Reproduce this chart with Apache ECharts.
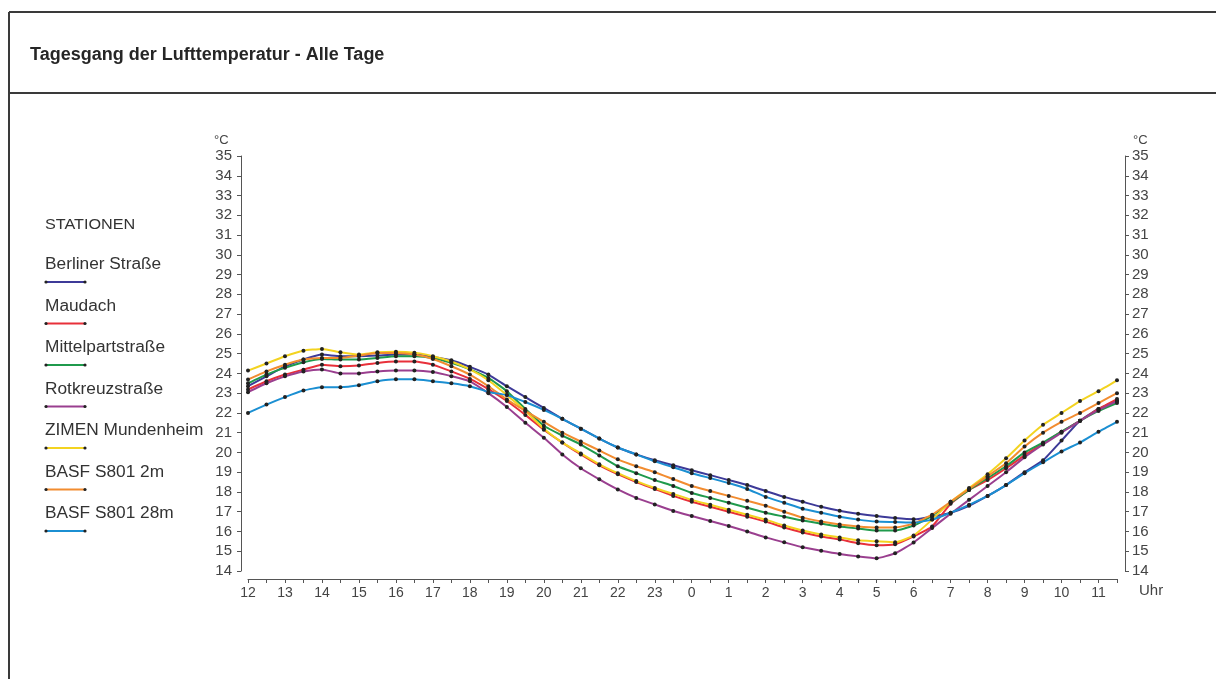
<!DOCTYPE html>
<html>
<head>
<meta charset="utf-8">
<script src="https://cdn.jsdelivr.net/npm/echarts@6/dist/echarts.min.js"></script>
<style>
html,body{margin:0;padding:0;background:#fff;}
#chart{width:1216px;height:679px;}
</style>
</head>
<body>
<div id="chart"></div>
<script>
const times = ['12:00','12:30','13:00','13:30','14:00','14:30','15:00','15:30','16:00','16:30','17:00','17:30',
  '18:00','18:30','19:00','19:30','20:00','20:30','21:00','21:30','22:00','22:30','23:00','23:30',
  '0:00','0:30','1:00','1:30','2:00','2:30','3:00','3:30','4:00','4:30','5:00','5:30',
  '6:00','6:30','7:00','7:30','8:00','8:30','9:00','9:30','10:00','10:30','11:00','11:30'];

const stationNames = ['Berliner Straße','Maudach','Mittelpartstraße','Rotkreuzstraße','ZIMEN Mundenheim','BASF S801 2m','BASF S801 28m'];

const berliner = [23.35,23.85,24.35,24.7,24.95,24.87,24.87,24.9,24.95,24.95,24.83,24.66,24.33,23.94,23.35,22.8,22.25,21.7,21.2,20.7,20.25,19.9,19.6,19.35,19.1,18.85,18.6,18.35,18.05,17.75,17.5,17.25,17.05,16.9,16.78,16.68,16.62,16.75,16.95,17.3,17.8,18.35,19.0,19.6,20.6,21.6,22.2,22.6];
const maudach = [23.18,23.6,23.94,24.19,24.44,24.36,24.4,24.53,24.6,24.6,24.44,24.1,23.72,23.2,22.6,21.9,21.15,20.5,19.9,19.35,18.9,18.5,18.15,17.8,17.5,17.25,17.0,16.75,16.5,16.2,15.95,15.75,15.6,15.4,15.3,15.35,15.75,16.25,17.4,18.1,18.6,19.2,19.85,20.45,21.05,21.6,22.2,22.7];
const mittelpart = [23.5,23.94,24.28,24.56,24.73,24.7,24.7,24.78,24.87,24.87,24.78,24.53,24.2,23.77,23.1,22.2,21.35,20.85,20.4,19.85,19.3,18.95,18.6,18.3,17.95,17.7,17.45,17.2,16.95,16.75,16.55,16.4,16.25,16.15,16.05,16.05,16.3,16.8,17.45,18.1,18.7,19.3,20.0,20.5,21.05,21.6,22.1,22.5];
const rotkreuz = [23.05,23.5,23.85,24.1,24.2,24.0,24.0,24.1,24.15,24.15,24.07,23.86,23.6,23.0,22.3,21.5,20.74,19.9,19.2,18.64,18.13,17.7,17.37,17.04,16.78,16.53,16.28,16.0,15.7,15.45,15.2,15.02,14.86,14.74,14.65,14.9,15.44,16.17,16.9,17.6,18.3,19.0,19.75,20.4,21.0,21.6,22.15,22.6];
const zimen = [24.14,24.5,24.87,25.15,25.24,25.07,24.95,25.07,25.1,25.05,24.87,24.6,24.2,23.65,22.9,22.1,21.2,20.5,19.95,19.4,18.95,18.55,18.2,17.9,17.6,17.35,17.1,16.85,16.6,16.3,16.05,15.85,15.7,15.55,15.5,15.45,15.8,16.6,17.5,18.2,18.9,19.7,20.6,21.4,22.0,22.6,23.1,23.65];
const basf2m = [23.69,24.1,24.44,24.7,24.78,24.78,24.9,25.03,25.03,24.95,24.73,24.36,23.94,23.35,22.68,22.1,21.55,21.0,20.55,20.1,19.65,19.3,19.0,18.65,18.3,18.05,17.8,17.55,17.3,17.0,16.7,16.5,16.35,16.25,16.2,16.2,16.4,16.85,17.5,18.15,18.8,19.45,20.3,21.0,21.55,22.0,22.5,23.0];
const basf28m = [22.0,22.42,22.8,23.13,23.3,23.3,23.4,23.6,23.7,23.7,23.6,23.5,23.35,23.06,22.9,22.55,22.15,21.7,21.2,20.7,20.25,19.9,19.55,19.25,18.95,18.7,18.45,18.15,17.75,17.45,17.15,16.95,16.75,16.6,16.5,16.48,16.45,16.6,16.95,17.35,17.8,18.35,18.95,19.5,20.05,20.5,21.05,21.55];

const seriesValues = [berliner, maudach, mittelpart, rotkreuz, zimen, basf2m, basf28m];
const colors = ['#3d3a98','#e8303a','#1f9a4c','#9a3f8f','#f3d320','#f28c30','#1b8fd2'];

const FONT = '"Liberation Sans", Arial, sans-serif';
const chart = echarts.init(document.getElementById('chart'), null, {renderer:'canvas'});

const graphics = [
  {type:'line', shape:{x1:9,y1:12,x2:1216,y2:12}, style:{stroke:'#3a3a3a', lineWidth:2}},
  {type:'line', shape:{x1:9,y1:12,x2:9,y2:679}, style:{stroke:'#3a3a3a', lineWidth:2}},
  {type:'line', shape:{x1:9,y1:93,x2:1216,y2:93}, style:{stroke:'#3a3a3a', lineWidth:2}},
  {type:'text', x:30, y:55, style:{text:'Tagesgang der Lufttemperatur - Alle Tage', font:'bold 18px '+FONT, fill:'#262626', textVerticalAlign:'middle'}},
  {type:'text', x:214, y:140, style:{text:'°C', font:'13px '+FONT, fill:'#444', textVerticalAlign:'middle'}},
  {type:'text', x:1133, y:140, style:{text:'°C', font:'13px '+FONT, fill:'#444', textVerticalAlign:'middle'}},
  {type:'text', x:1139, y:591, style:{text:'Uhr', font:'15px '+FONT, fill:'#444', textVerticalAlign:'middle'}},
  {type:'text', x:45, y:225, scaleX:1.08, style:{text:'STATIONEN', font:'15px '+FONT, fill:'#333', textVerticalAlign:'middle'}}
];
stationNames.forEach((n,i)=>{
  const ty = 265 + 41.5*i;
  const ly = 282 + 41.5*i;
  graphics.push({type:'text', x:45, y:ty, scaleX:1.08, style:{text:n, font:'16px '+FONT, fill:'#333', textVerticalAlign:'middle'}});
  graphics.push({type:'line', shape:{x1:46,y1:ly,x2:85,y2:ly}, style:{stroke:colors[i], lineWidth:2}});
  graphics.push({type:'circle', shape:{cx:46,cy:ly,r:1.6}, style:{fill:'#222'}});
  graphics.push({type:'circle', shape:{cx:85,cy:ly,r:1.6}, style:{fill:'#222'}});
});

const yAxisCommon = {
  type:'value', min:14, max:35, interval:1,
  splitLine:{show:false},
  axisLine:{show:true, lineStyle:{color:'#555', width:1}},
  axisTick:{show:true, length:4, lineStyle:{color:'#555'}},
  axisLabel:{fontSize:15, color:'#444', fontFamily:FONT}
};

chart.setOption({
  animation:false,
  backgroundColor:'#fff',
  grid:{left:248, right:99, top:156, bottom:108, containLabel:false},
  xAxis:{
    type:'category', data:times, boundaryGap:false, offset:8,
    axisLine:{lineStyle:{color:'#555', width:1}},
    axisTick:{show:true, interval:0, length:4, lineStyle:{color:'#555'}},
    axisLabel:{interval:0, fontSize:14, color:'#444', fontFamily:FONT, margin:7,
      formatter:v => v.endsWith(':00') ? v.split(':')[0] : ''},
    splitLine:{show:false}
  },
  yAxis:[
    Object.assign({}, yAxisCommon, {position:'left', offset:7, axisLabel:Object.assign({}, yAxisCommon.axisLabel, {margin:9})}),
    Object.assign({}, yAxisCommon, {position:'right', offset:8, axisLabel:Object.assign({}, yAxisCommon.axisLabel, {margin:7})})
  ],
  graphic:graphics,
  series: stationNames.map((n,i)=>({
    name:n, type:'line', data:seriesValues[i], yAxisIndex:0,
    smooth:0.15,
    symbol:'circle', symbolSize:4,
    itemStyle:{color:'#222'},
    lineStyle:{color:colors[i], width:2},
    emphasis:{disabled:true}
  }))
});
</script>
</body>
</html>
